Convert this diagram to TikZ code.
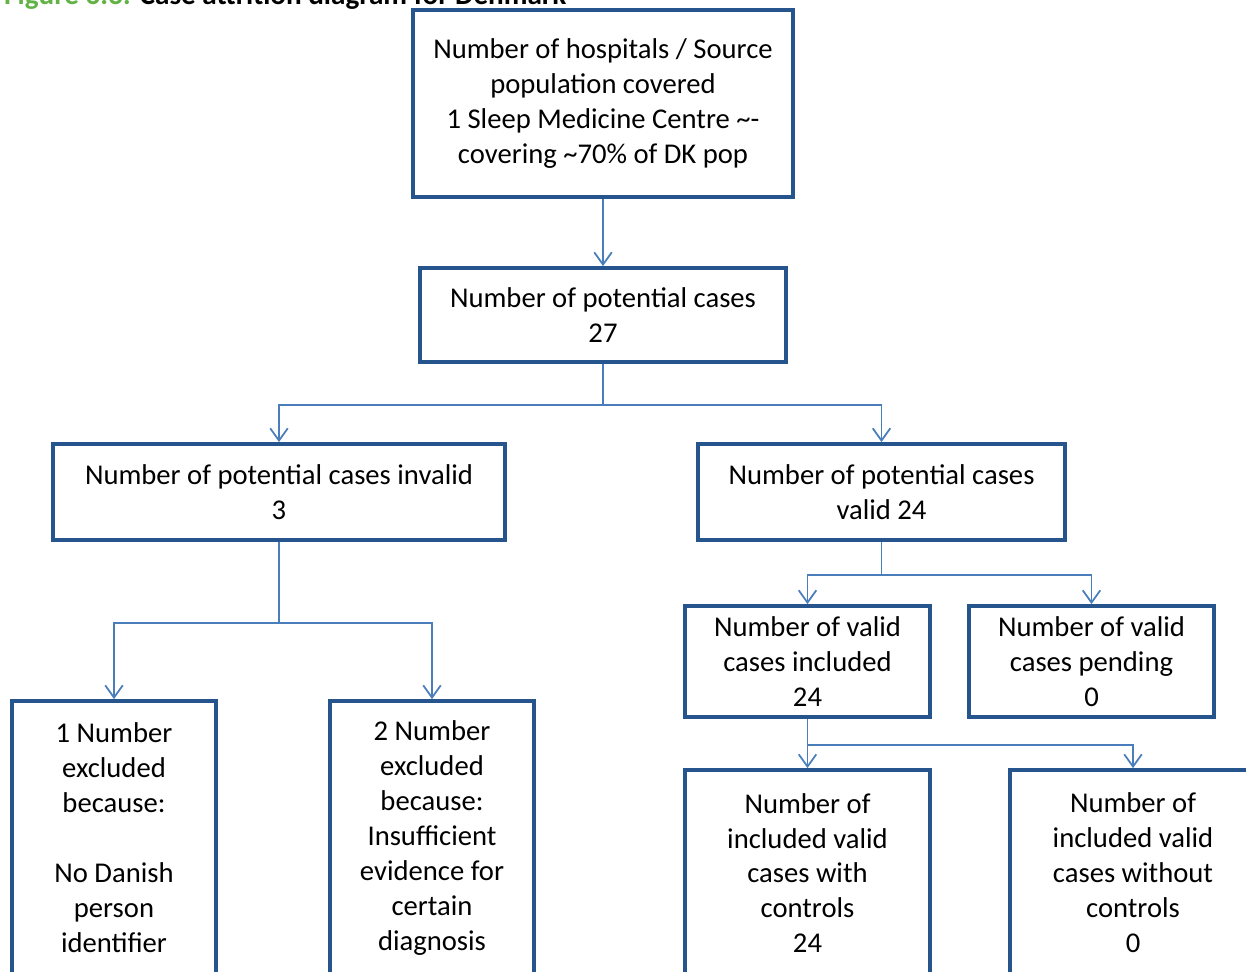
\documentclass[tikz,border=0pt]{standalone}
\usepackage{fontspec}
\setmainfont{Carlito}
\usetikzlibrary{arrows.meta}

\definecolor{boxblue}{RGB}{38,85,142}
\definecolor{linkblue}{RGB}{74,126,187}
\definecolor{figgreen}{RGB}{98,178,70}

\tikzset{
  box/.style={draw=boxblue, line width=2.2pt, align=center, inner sep=0pt,
    font=\fontsize{16.3}{19.9}\selectfont},
  link/.style={draw=linkblue, line width=1pt, -{Straight Barb[length=7pt,width=10pt]}},
}

\begin{document}
\begin{tikzpicture}[x=0.02cm, y=-0.02cm]
    \useasboundingbox (0,0) rectangle (1246,971);
    % Caption (runs off the top edge)
    \node[anchor=base west, font=\bfseries\fontsize{16.6}{20}\selectfont] (caption) at (-2,4)
        {\textcolor{figgreen}{Figure 6.3:} Case attrition diagram for Denmark};
    % Source and potential cases
    \node[box, minimum width=7.6cm, minimum height=3.74cm] (source) at (603,103.5)
        {Number of hospitals / Source\\population covered\\1 Sleep Medicine Centre \textasciitilde-\\covering \textasciitilde70\% of DK pop};
    \node[box, minimum width=7.32cm, minimum height=1.88cm] (potential) at (603,315)
        {Number of potential cases\\27};
    % Invalid / valid split
    \node[box, minimum width=9.04cm, minimum height=1.92cm] (invalid) at (279,492)
        {Number of potential cases invalid\\3};
    \node[box, minimum width=7.34cm, minimum height=1.92cm] (valid) at (881.5,492)
        {Number of potential cases\\valid 24};
    % Exclusions
    \node[box, minimum width=4.08cm, minimum height=5.48cm] (exclA) at (114,838)
        {1 Number\\excluded\\because:\\[19.9pt]No Danish\\person\\identifier};
    \node[box, minimum width=4.08cm, minimum height=5.48cm] (exclB) at (432,838)
        {2 Number\\excluded\\because:\\Insufficient\\evidence for\\certain\\diagnosis};
    % Valid cases
    \node[box, minimum width=4.9cm, minimum height=2.22cm] (included) at (807.5,661.5)
        {Number of valid\\cases included\\24};
    \node[box, minimum width=4.9cm, minimum height=2.22cm] (pending) at (1091.5,661.5)
        {Number of valid\\cases pending\\0};
    \node[box, minimum width=4.9cm, minimum height=4.12cm] (withctrl) at (807.5,873)
        {Number of\\included valid\\cases with\\controls\\24};
    \node[box, minimum width=4.92cm, minimum height=4.12cm] (noctrl) at (1133,873)
        {Number of\\included valid\\cases without\\controls\\0};
    % Connectors
    \draw[link] (source.south) -- (potential.north);
    \draw[link] (potential.south) -- ++(0,41) -| (invalid.north);
    \draw[link] (potential.south) -- ++(0,41) -| (valid.north);
    \draw[link] (invalid.south) -- ++(0,81) -| (exclA.north);
    \draw[link] (invalid.south) -- ++(0,81) -| (exclB.north);
    \draw[link] (valid.south) -- ++(0,33) -| (included.north);
    \draw[link] (valid.south) -- ++(0,33) -| (pending.north);
    \draw[link] (included.south) -- ++(0,26) -| (withctrl.north);
    \draw[link] (included.south) -- ++(0,26) -| (noctrl.north);
\end{tikzpicture}
\end{document}
